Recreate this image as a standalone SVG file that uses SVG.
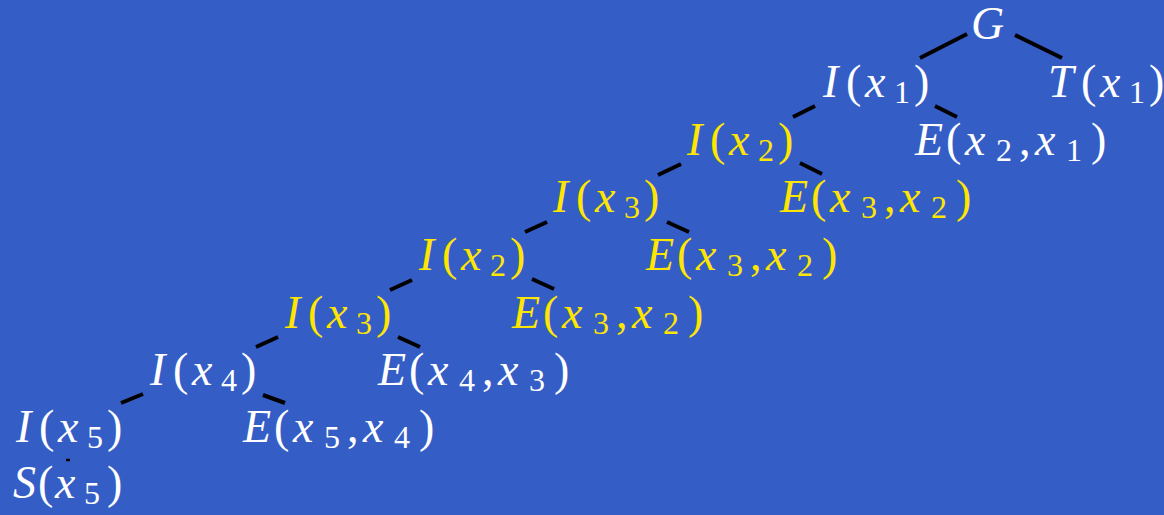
<svg xmlns="http://www.w3.org/2000/svg" width="1164" height="515" viewBox="0 0 1164 515">
<style>
.w{fill:#ffffff}
.y{fill:#ffe600}
.it{font-style:italic}
.sub{font-size:32px}
#edges line{stroke:#000;stroke-width:4;stroke-linecap:butt}
</style>
<rect width="1164" height="515" fill="#355dc6"/>
<g id="edges">
<line x1="920" y1="58" x2="967" y2="34"/>
<line x1="1015" y1="35" x2="1062" y2="58"/>
<line x1="793" y1="117" x2="815" y2="106"/>
<line x1="935" y1="106" x2="957" y2="117"/>
<line x1="658" y1="175" x2="681" y2="164"/>
<line x1="800" y1="163" x2="822" y2="174"/>
<line x1="525" y1="232" x2="547" y2="222"/>
<line x1="667" y1="222" x2="689" y2="232"/>
<line x1="390" y1="290" x2="412" y2="280"/>
<line x1="532" y1="279" x2="554" y2="289"/>
<line x1="256" y1="347" x2="278" y2="337"/>
<line x1="398" y1="337" x2="420" y2="347"/>
<line x1="121" y1="403" x2="143" y2="394"/>
<line x1="263" y1="395" x2="285" y2="403"/>
<line x1="66" y1="460" x2="70" y2="460" style="stroke-width:2.5"/>
</g>
<g font-family="Liberation Serif, serif" font-size="46">
<g id="n_G"><text class="w" y="39"><tspan x="971" class="it">G</tspan></text></g>
<g id="n_I1"><text class="w" y="97"><tspan x="823" class="it">I</tspan><tspan x="846">(</tspan><tspan x="865" class="it">x</tspan><tspan x="894" y="103" class="sub">1</tspan><tspan x="914" y="97">)</tspan></text></g>
<g id="n_T1"><text class="w" y="97"><tspan x="1048" class="it">T</tspan><tspan x="1081">(</tspan><tspan x="1100" class="it">x</tspan><tspan x="1129" y="103" class="sub">1</tspan><tspan x="1149" y="97">)</tspan></text></g>
<g id="n_I2a"><text class="y" y="155"><tspan x="687" class="it">I</tspan><tspan x="710">(</tspan><tspan x="729" class="it">x</tspan><tspan x="758" y="161" class="sub">2</tspan><tspan x="778" y="155">)</tspan></text></g>
<g id="n_E21"><text class="w" y="155"><tspan x="915" class="it">E</tspan><tspan x="946">(</tspan><tspan x="965" class="it">x</tspan><tspan x="996" y="161" class="sub">2</tspan><tspan x="1019" y="155">,</tspan><tspan x="1035" class="it">x</tspan><tspan x="1066" y="161" class="sub">1</tspan><tspan x="1091" y="155">)</tspan></text></g>
<g id="n_I3a"><text class="y" y="212"><tspan x="553" class="it">I</tspan><tspan x="576">(</tspan><tspan x="595" class="it">x</tspan><tspan x="624" y="218" class="sub">3</tspan><tspan x="644" y="212">)</tspan></text></g>
<g id="n_E32a"><text class="y" y="212"><tspan x="780" class="it">E</tspan><tspan x="811">(</tspan><tspan x="830" class="it">x</tspan><tspan x="861" y="218" class="sub">3</tspan><tspan x="884" y="212">,</tspan><tspan x="900" class="it">x</tspan><tspan x="931" y="218" class="sub">2</tspan><tspan x="956" y="212">)</tspan></text></g>
<g id="n_I2b"><text class="y" y="270"><tspan x="419" class="it">I</tspan><tspan x="442">(</tspan><tspan x="461" class="it">x</tspan><tspan x="490" y="276" class="sub">2</tspan><tspan x="510" y="270">)</tspan></text></g>
<g id="n_E32b"><text class="y" y="270"><tspan x="646" class="it">E</tspan><tspan x="677">(</tspan><tspan x="696" class="it">x</tspan><tspan x="727" y="276" class="sub">3</tspan><tspan x="750" y="270">,</tspan><tspan x="766" class="it">x</tspan><tspan x="797" y="276" class="sub">2</tspan><tspan x="822" y="270">)</tspan></text></g>
<g id="n_I3b"><text class="y" y="328"><tspan x="285" class="it">I</tspan><tspan x="308">(</tspan><tspan x="327" class="it">x</tspan><tspan x="356" y="334" class="sub">3</tspan><tspan x="376" y="328">)</tspan></text></g>
<g id="n_E32c"><text class="y" y="328"><tspan x="512" class="it">E</tspan><tspan x="543">(</tspan><tspan x="562" class="it">x</tspan><tspan x="593" y="334" class="sub">3</tspan><tspan x="616" y="328">,</tspan><tspan x="632" class="it">x</tspan><tspan x="663" y="334" class="sub">2</tspan><tspan x="688" y="328">)</tspan></text></g>
<g id="n_I4"><text class="w" y="385"><tspan x="150" class="it">I</tspan><tspan x="173">(</tspan><tspan x="192" class="it">x</tspan><tspan x="221" y="391" class="sub">4</tspan><tspan x="241" y="385">)</tspan></text></g>
<g id="n_E43"><text class="w" y="385"><tspan x="378" class="it">E</tspan><tspan x="409">(</tspan><tspan x="428" class="it">x</tspan><tspan x="459" y="391" class="sub">4</tspan><tspan x="482" y="385">,</tspan><tspan x="498" class="it">x</tspan><tspan x="529" y="391" class="sub">3</tspan><tspan x="554" y="385">)</tspan></text></g>
<g id="n_I5"><text class="w" y="442"><tspan x="16" class="it">I</tspan><tspan x="39">(</tspan><tspan x="58" class="it">x</tspan><tspan x="87" y="448" class="sub">5</tspan><tspan x="107" y="442">)</tspan></text></g>
<g id="n_E54"><text class="w" y="442"><tspan x="243" class="it">E</tspan><tspan x="274">(</tspan><tspan x="293" class="it">x</tspan><tspan x="324" y="448" class="sub">5</tspan><tspan x="347" y="442">,</tspan><tspan x="363" class="it">x</tspan><tspan x="394" y="448" class="sub">4</tspan><tspan x="419" y="442">)</tspan></text></g>
<g id="n_S5"><text class="w" y="498"><tspan x="13" class="it">S</tspan><tspan x="38">(</tspan><tspan x="55" class="it">x</tspan><tspan x="84" y="504" class="sub">5</tspan><tspan x="107" y="498">)</tspan></text></g>
</g>
</svg>
